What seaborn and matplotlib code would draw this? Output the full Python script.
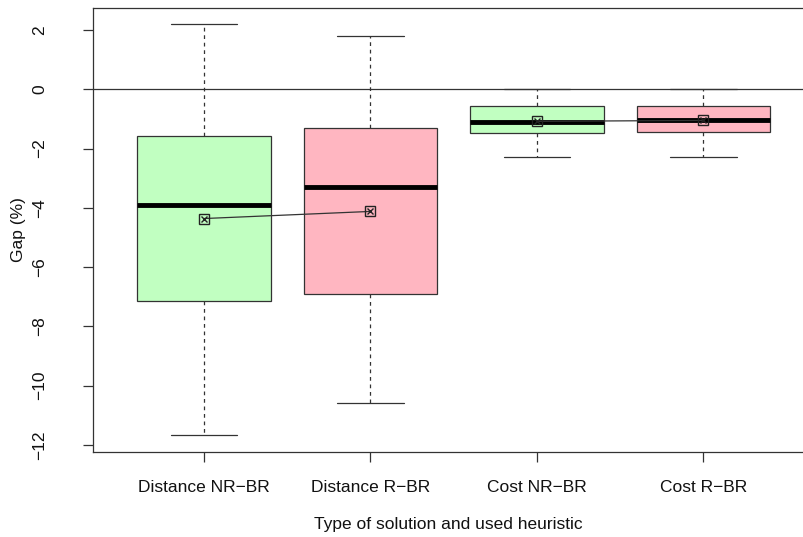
import numpy as np
import pandas as pd
import matplotlib
matplotlib.use("Agg")
import matplotlib.pyplot as plt
import seaborn as sns

categories = ["Distance NR\u2212BR", "Distance R\u2212BR", "Cost NR\u2212BR", "Cost R\u2212BR"]
whisker_low = [-11.65, -10.57, -2.30, -2.30]
q1 = [-7.13, -6.89, -1.49, -1.45]
medians = [-3.89, -3.28, -1.11, -1.05]
q3 = [-1.59, -1.32, -0.57, -0.57]
whisker_high = [2.20, 1.79, 0.0, 0.0]
means = [-4.36, -4.12, -1.08, -1.05]
mean_groups = [[0, 1], [2, 3]]
colors = ["#C1FFC1", "#FFB6C1", "#C1FFC1", "#FFB6C1"]
yticks = [2, 0, -2, -4, -6, -8, -10, -12]

rows = []
for i, c in enumerate(categories):
    for v in (whisker_low[i], q1[i], medians[i], q3[i], whisker_high[i]):
        rows.append({"cat": c, "gap": v})
df = pd.DataFrame(rows)

sns.set_style("white")
plt.rcParams["font.family"] = ["Liberation Sans", "DejaVu Sans"]

fig = plt.figure(figsize=(8.04, 5.37), dpi=100)
ax = fig.add_axes([93/804, 1-452/537, 1-93/804, (452-8)/537])

sns.boxplot(data=df, x="cat", y="gap", hue="cat", palette=colors, legend=False,
            order=categories, hue_order=categories, dodge=False, width=0.8,
            saturation=1, whis=(0, 100), showfliers=False, ax=ax,
            boxprops=dict(edgecolor="#333333", linewidth=0.9),
            medianprops=dict(color="black", linewidth=3.5),
            whiskerprops=dict(color="#333333", linewidth=0.9, linestyle=(0, (3, 3))),
            capprops=dict(color="#333333", linewidth=0.9),
            capwidths=0.4)

ax.axhline(0, color="#333333", linewidth=0.9)

xpos = np.arange(len(categories))
means_arr = np.array(means)
for g in mean_groups:
    ax.plot(xpos[g], means_arr[g], color="#333333", linewidth=0.9, zorder=5)
ax.plot(xpos, means, linestyle="none", marker="s", markersize=7, mfc="none",
        mec="#222222", mew=1.0, zorder=6)
ax.plot(xpos, means, linestyle="none", marker="x", markersize=5,
        mec="#222222", mew=1.0, zorder=6)

ax.set_xlim((93-204)/166.5, (804-204)/166.5)
ax.set_ylim(-12 - 7/29.6, 2 + 22/29.6)
ax.set_yticks(yticks)
ax.set_yticklabels([("\u2212" if t < 0 else "") + str(abs(t)) for t in yticks],
                   rotation=90, va="center")
ax.set_xticks(xpos)
ax.set_xticklabels(categories)
ax.tick_params(axis="both", direction="out", length=7, width=0.9, color="#333333",
               labelsize=12.5, labelcolor="#111111", left=True, bottom=True)
ax.tick_params(axis="x", pad=13)
ax.tick_params(axis="y", pad=26)

for s in ["left", "top", "bottom"]:
    ax.spines[s].set_visible(True)
    ax.spines[s].set_color("#333333")
    ax.spines[s].set_linewidth(0.9)
ax.spines["right"].set_visible(False)

ax.set_xlabel("Type of solution and used heuristic", fontsize=12.5, labelpad=16, color="#111111")
ax.set_ylabel("Gap (%)", fontsize=12.5, color="#111111")
ax.yaxis.set_label_coords((26-93)/711, 0.5)

fig.savefig("out.png", dpi=100)
